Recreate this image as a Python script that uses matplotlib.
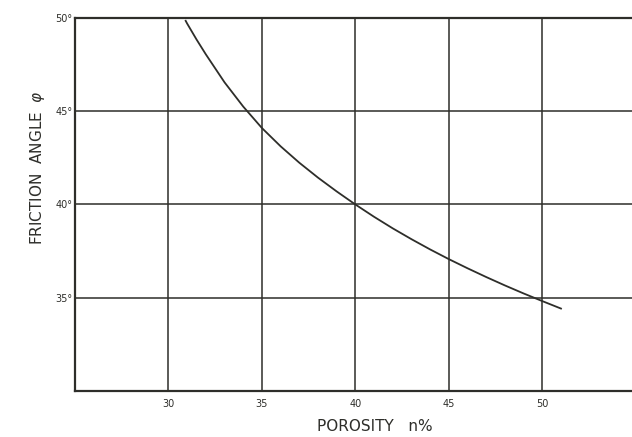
import matplotlib
matplotlib.use('Agg')
import matplotlib.pyplot as plt

# porosity n (%) vs friction angle (deg)
porosity = [30.92, 31, 31.5, 32, 33, 34, 35, 36, 37, 38, 39, 40, 41, 42, 43, 44,
            45, 46, 47, 48, 49, 50, 51]
friction = [49.85, 49.7, 48.85, 48.05, 46.55, 45.25, 44.1, 43.12, 42.24, 41.44,
            40.7, 40.0, 39.34, 38.72, 38.14, 37.59, 37.07, 36.58, 36.11, 35.66,
            35.23, 34.82, 34.42]
x_ticks = [30, 35, 40, 45, 50]
y_ticks = [35, 40, 45, 50]
y_ticklabels = ['35°', '40°', '45°', '50°']

ink = '#2e2e2a'
fig = plt.figure(figsize=(6.32, 4.37), dpi=100)
ax = fig.add_axes([0.1187, 0.1053, 0.8813, 0.8535])

ax.plot(porosity, friction, color=ink, lw=1.3)
ax.set_xlim(25, 54.8)
ax.set_ylim(30, 50)
ax.set_xticks(x_ticks)
ax.set_yticks(y_ticks)
ax.set_yticklabels(y_ticklabels)
ax.grid(True, color=ink, lw=1.1)
ax.tick_params(length=0, labelsize=7, colors=ink, pad=6)
ax.tick_params(axis='y', pad=2)

for side in ['left', 'bottom', 'top']:
    ax.spines[side].set_color(ink)
    ax.spines[side].set_linewidth(1.6)
ax.spines['right'].set_visible(False)

ax.set_xlabel('POROSITY   n%', fontsize=11, color=ink)
ax.set_ylabel('FRICTION  ANGLE  $\\varphi$', fontsize=11, color=ink)
ax.xaxis.set_label_coords(0.539, -0.075)
ax.yaxis.set_label_coords(-0.05, 0.598)

plt.savefig('out.png')
plt.close()
